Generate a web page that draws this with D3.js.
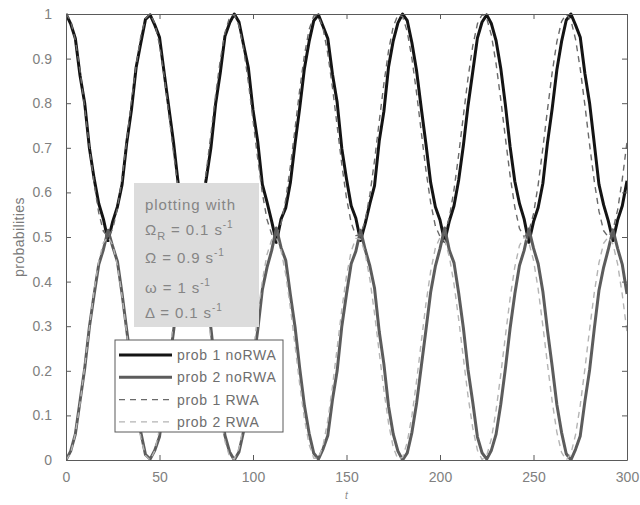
<!DOCTYPE html>
<html>
<head>
<meta charset="utf-8">
<script src="https://cdn.jsdelivr.net/npm/d3@7"></script>
<style>
  body { margin: 0; background: #fff; }
  svg { display: block; font-family: "Liberation Sans", Arial, sans-serif; }
</style>
</head>
<body>
<div id="chart" style="width:640px;height:505px"></div>
<script>
const timeStep = 2.5;

const prob1NoRWA = [
  1, .978, .945, .862, .800, .700, .632, .575, .540, .492, .535, .568, .618, .712, .785, .880, .935, .988,
  .998, .975, .948, .868, .790, .712, .620, .572, .538, .490, .532, .570, .630, .700, .798, .868, .950, .980,
  1, .982, .930, .880, .785, .715, .618, .578, .535, .488, .540, .565, .622, .710, .790, .878, .938, .985,
  .998, .972, .945, .865, .802, .698, .630, .570, .542, .492, .530, .575, .615, .715, .782, .882, .940, .980,
  1, .985, .935, .872, .788, .708, .622, .568, .538, .490, .536, .570, .628, .705, .795, .870, .946, .982,
  .998, .978, .940, .878, .795, .702, .625, .575, .540, .488, .534, .566, .620, .712, .788, .875, .938, .986,
  1, .975, .948, .866, .800, .710, .618, .572, .536, .492, .538, .570, .626
];

const prob2NoRWA = [
  0, .020, .058, .132, .205, .298, .370, .438, .472, .515, .478, .445, .372, .290, .212, .118, .062, .012,
  .002, .022, .052, .130, .210, .288, .378, .430, .475, .518, .470, .440, .380, .295, .200, .128, .055, .018,
  0, .018, .065, .120, .212, .290, .382, .432, .470, .520, .476, .448, .370, .298, .205, .122, .060, .015,
  .002, .025, .055, .135, .200, .300, .372, .440, .468, .515, .472, .435, .385, .288, .215, .120, .058, .020,
  0, .016, .062, .128, .210, .292, .376, .434, .474, .520, .470, .442, .374, .296, .202, .130, .052, .016,
  .002, .022, .058, .125, .206, .296, .372, .436, .470, .518, .475, .440, .378, .290, .210, .124, .062, .014,
  0, .024, .054, .132, .202, .294, .380, .432, .472, .516, .474, .438, .372
];

const prob1RWA = [
  1, .985, .941, .873, .790, .703, .621, .554, .513, .500, .518, .564, .633, .717, .804, .885, .950, .990,
  1, .979, .931, .861, .776, .689, .609, .547, .509, .501, .523, .574, .646, .731, .818, .897, .958, .993,
  .998, .974, .921, .848, .762, .676, .598, .539, .506, .502, .530, .584, .659, .744, .831, .908, .965, .996,
  .996, .967, .911, .835, .749, .662, .587, .532, .503, .505, .537, .595, .672, .759, .844, .918, .972, .998,
  .994, .960, .900, .822, .735, .649, .577, .525, .501, .508, .544, .606, .685, .772, .857, .928, .978, .999,
  .990, .952, .888, .808, .721, .637, .567, .519, .500, .512, .552, .617, .699, .786, .869, .938, .983, 1,
  .986, .943, .877, .795, .707, .625, .558, .514, .500, .516, .561, .630, .713
];

const prob2RWA = [
  0, .015, .059, .127, .210, .297, .379, .446, .487, .500, .482, .436, .367, .283, .196, .115, .050, .010,
  0, .021, .069, .139, .224, .311, .391, .453, .491, .499, .477, .426, .354, .269, .182, .103, .042, .007,
  .002, .026, .079, .152, .238, .324, .402, .461, .494, .498, .470, .416, .341, .256, .169, .092, .035, .004,
  .004, .033, .089, .165, .251, .338, .413, .468, .497, .495, .463, .405, .328, .241, .156, .082, .028, .002,
  .006, .040, .100, .178, .265, .351, .423, .475, .499, .492, .456, .394, .315, .228, .143, .072, .022, .001,
  .010, .048, .112, .192, .279, .363, .433, .481, .500, .488, .448, .383, .301, .214, .131, .062, .017, 0,
  .014, .057, .123, .205, .293, .375, .442, .486, .500, .484, .439, .370, .287
];

const seriesNames = ["prob 1 noRWA", "prob 2 noRWA", "prob 1 RWA", "prob 2 RWA"];
const xTicks = [0, 50, 100, 150, 200, 250, 300];
const yTicks = [0, 0.1, 0.2, 0.3, 0.4, 0.5, 0.6, 0.7, 0.8, 0.9, 1];
const yTickLabels = ["0", "0.1", "0.2", "0.3", "0.4", "0.5", "0.6", "0.7", "0.8", "0.9", "1"];

const times = d3.range(prob1NoRWA.length).map((i) => i * timeStep);
const allSeries = [prob1NoRWA, prob2NoRWA, prob1RWA, prob2RWA];

const styles = [
  { color: "#141414", width: 3, dash: null },
  { color: "#5c5c5c", width: 3, dash: null },
  { color: "#6a6a6a", width: 1.4, dash: "6,5" },
  { color: "#b4b4b4", width: 1.4, dash: "6,5" }
];

const elContainer = document.getElementById("chart");
const width = 640, height = 505;
const margin = { top: 14, right: 13, bottom: 45, left: 66 };

const x = d3.scaleLinear().domain([0, 300]).range([margin.left, width - margin.right]);
const y = d3.scaleLinear().domain([0, 1]).range([height - margin.bottom, margin.top]);

const svg = d3.select(elContainer).append("svg")
  .attr("width", width)
  .attr("height", height);

svg.append("rect").attr("width", width).attr("height", height).attr("fill", "#fff");

svg.append("defs").append("clipPath").attr("id", "plot-clip")
  .append("rect")
  .attr("x", margin.left).attr("y", margin.top - 2)
  .attr("width", width - margin.left - margin.right)
  .attr("height", height - margin.top - margin.bottom + 2);

const line = d3.line()
  .x((d, i) => x(times[i]))
  .y((d) => y(d));

svg.append("g")
  .attr("clip-path", "url(#plot-clip)")
  .selectAll("path")
  .data(allSeries)
  .join("path")
  .attr("fill", "none")
  .attr("stroke", (d, i) => styles[i].color)
  .attr("stroke-width", (d, i) => styles[i].width)
  .attr("stroke-dasharray", (d, i) => styles[i].dash)
  .attr("stroke-linejoin", "round")
  .attr("d", line);

// frame + inward ticks (all four sides)
const frameColor = "#5a5a5a";
svg.append("g").attr("transform", `translate(0,${height - margin.bottom})`)
  .call(d3.axisBottom(x).tickValues(xTicks).tickSizeInner(-5).tickSizeOuter(0).tickPadding(12))
  .call((g) => g.selectAll("text").attr("font-size", 14).attr("fill", "#808080").attr("font-family", "Liberation Sans, Arial"));
svg.append("g").attr("transform", `translate(0,${margin.top})`)
  .call(d3.axisTop(x).tickValues(xTicks).tickSizeInner(-5).tickSizeOuter(0).tickFormat(""));
svg.append("g").attr("transform", `translate(${margin.left},0)`)
  .call(d3.axisLeft(y).tickValues(yTicks).tickSizeInner(-5).tickSizeOuter(0).tickPadding(14)
    .tickFormat((d, i) => yTickLabels[i]))
  .call((g) => g.selectAll("text").attr("font-size", 14).attr("fill", "#808080").attr("font-family", "Liberation Sans, Arial"));
svg.append("g").attr("transform", `translate(${width - margin.right},0)`)
  .call(d3.axisRight(y).tickValues(yTicks).tickSizeInner(-5).tickSizeOuter(0).tickFormat(""));
svg.selectAll(".domain, .tick line").attr("stroke", frameColor).attr("stroke-width", 1);

// axis labels
svg.append("text")
  .attr("transform", `translate(24,${(margin.top + height - margin.bottom) / 2}) rotate(-90)`)
  .attr("text-anchor", "middle")
  .attr("font-size", 14)
  .attr("letter-spacing", 0.4)
  .attr("fill", "#7a7a7a")
  .text("probabilities");
svg.append("text")
  .attr("x", x(150)).attr("y", 499)
  .attr("text-anchor", "middle")
  .attr("font-size", 10)
  .attr("font-style", "italic")
  .attr("fill", "#8a8a8a")
  .text("t");

// parameter text box
const box = svg.append("g").attr("transform", "translate(134,183)");
box.append("rect").attr("width", 125).attr("height", 144).attr("fill", "#dcdcdc");
const boxText = box.append("g").attr("fill", "#858585").attr("font-size", 15).attr("letter-spacing", 0.9);
boxText.append("text").attr("x", 11).attr("y", 27).text("plotting with");
const paramRows = [
  { sym: "Ω", sub: "R", val: "= 0.1 s", y: 52 },
  { sym: "Ω", sub: null, val: "= 0.9 s", y: 80 },
  { sym: "ω", sub: null, val: "= 1 s", y: 110 },
  { sym: "Δ", sub: null, val: "= 0.1 s", y: 135 }
];
paramRows.forEach((r) => {
  const t = boxText.append("text").attr("x", 11).attr("y", r.y);
  t.append("tspan").text(r.sym);
  if (r.sub) t.append("tspan").attr("dy", 5).attr("font-size", 11).text(r.sub);
  t.append("tspan").attr("dy", r.sub ? -5 : 0).text(" " + r.val);
  t.append("tspan").attr("dy", -7).attr("font-size", 10).text("-1");
});

// legend
const legend = svg.append("g").attr("transform", "translate(115,340)");
legend.append("rect")
  .attr("width", 168).attr("height", 92)
  .attr("fill", "#fff").attr("stroke", frameColor).attr("stroke-width", 1);
const rows = legend.selectAll("g.row")
  .data(seriesNames)
  .join("g")
  .attr("class", "row")
  .attr("transform", (d, i) => `translate(0,${15 + i * 22.3})`);
rows.append("line")
  .attr("x1", 4).attr("x2", 57)
  .attr("stroke", (d, i) => styles[i].color)
  .attr("stroke-width", (d, i) => styles[i].width)
  .attr("stroke-dasharray", (d, i) => styles[i].dash);
rows.append("text")
  .attr("x", 62).attr("y", 5)
  .attr("font-size", 14)
  .attr("letter-spacing", 0.7)
  .attr("fill", "#6e6e6e")
  .text((d) => d);
</script>
</body>
</html>
